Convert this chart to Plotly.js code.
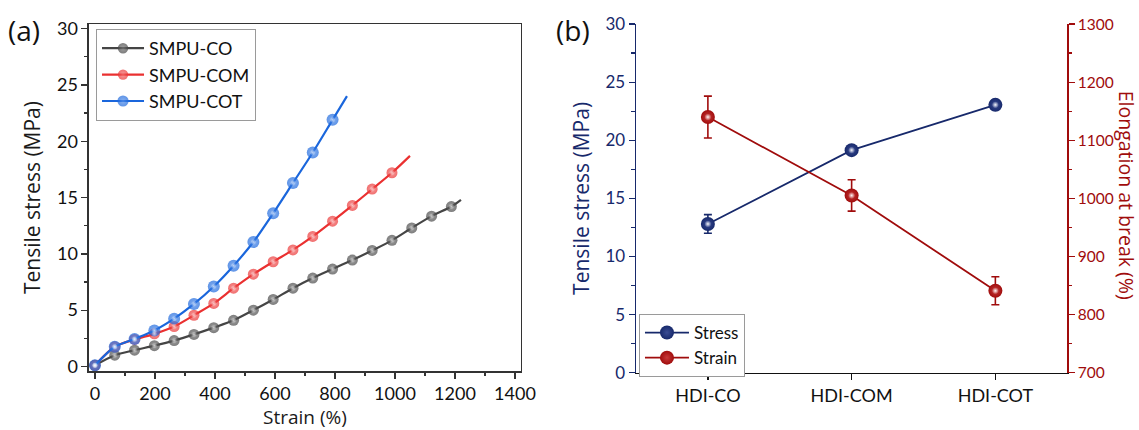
<!DOCTYPE html>
<html>
<head>
<meta charset="utf-8">
<script src="https://cdn.plot.ly/plotly-3.0.1.min.js"></script>
<style>
  html, body { margin: 0; padding: 0; background: #fff; }
  #chart { width: 1139px; height: 430px; }
</style>
</head>
<body>
<div id="chart"></div>
<script>
// (a) stress–strain curves: marker positions along each curve, plus the break point
const strainCO  = [0, 66, 132, 198, 264, 330, 396, 462, 528, 594, 660, 726, 792, 858, 924, 990, 1056, 1122, 1188, 1220];
const stressCO  = [0.1, 1.0, 1.45, 1.85, 2.3, 2.85, 3.45, 4.1, 5.0, 5.95, 6.95, 7.85, 8.65, 9.45, 10.3, 11.2, 12.3, 13.35, 14.2, 14.8];
const strainCOM = [0, 66, 132, 198, 264, 330, 396, 462, 528, 594, 660, 726, 792, 858, 924, 990, 1050];
const stressCOM = [0.1, 1.75, 2.4, 2.9, 3.55, 4.55, 5.6, 6.95, 8.2, 9.3, 10.35, 11.55, 12.9, 14.3, 15.75, 17.2, 18.7];
const strainCOT = [0, 66, 132, 198, 264, 330, 396, 462, 528, 594, 660, 726, 792, 840];
const stressCOT = [0.1, 1.75, 2.45, 3.2, 4.25, 5.55, 7.1, 8.95, 11.05, 13.6, 16.3, 19.0, 21.9, 24.0];

// (b) summary per sample
const samples      = ['HDI-CO', 'HDI-COM', 'HDI-COT'];
const tensile      = [12.8, 19.15, 23.05];
const tensileErr   = [0.8, 0.3, 0.4];
const elongation   = [1140, 1005, 841];
const elongErr     = [36, 27, 24];

const tickFont  = 'Lato, "Open Sans", sans-serif';
const titleFont = '"Open Sans", "Noto Sans", sans-serif';
const navy = '#17296b';
const wine = '#a00c0c';

// the last point of each curve is the break point: line only, no marker
function sizes(n, s) { return Array.from({length: n}, (_, i) => i === n - 1 ? 0 : s); }

// solid ball marker: mid-tone centre fading to the series colour at the rim
function ball(col, mid, s) {
  return {size: s, color: col, line: {width: 0},
          gradient: {type: 'radial', color: mid}};
}

// small white glint drawn on top of each ball
function glint(x, y, xa, ya, s) {
  return {
    type: 'scatter', mode: 'markers', x: x, y: y, xaxis: xa, yaxis: ya,
    showlegend: false, hoverinfo: 'skip',
    marker: {size: s, color: 'rgba(255,255,255,0)', line: {width: 0},
             gradient: {type: 'radial', color: 'rgba(255,255,255,0.95)'}}
  };
}

function curve(name, x, y, col, mid, s) {
  return {
    type: 'scatter', mode: 'lines+markers', name: name, x: x, y: y,
    xaxis: 'x', yaxis: 'y', legend: 'legend',
    line: {color: col, width: 2.2, shape: 'spline', smoothing: 0.8},
    marker: ball(col, mid, sizes(x.length, s))
  };
}

const traces = [
  curve('SMPU-CO',  strainCO,  stressCO,  '#454545', '#7a7a7a', 11),
  curve('SMPU-COM', strainCOM, stressCOM, '#ea3030', '#f27070', 11),
  curve('SMPU-COT', strainCOT, stressCOT, '#1a66dc', '#5590ea', 12),
  glint(strainCO,  stressCO,  'x', 'y', sizes(strainCO.length, 6)),
  glint(strainCOM, stressCOM, 'x', 'y', sizes(strainCOM.length, 6)),
  glint(strainCOT, stressCOT, 'x', 'y', sizes(strainCOT.length, 6)),
  {
    type: 'scatter', mode: 'lines+markers', name: 'Stress',
    x: samples, y: tensile, xaxis: 'x2', yaxis: 'y2', legend: 'legend2',
    line: {color: navy, width: 1.8},
    marker: ball(navy, '#3a4c94', 14),
    error_y: {type: 'data', array: tensileErr, visible: true, color: navy, thickness: 1.6, width: 4}
  },
  {
    type: 'scatter', mode: 'lines+markers', name: 'Strain',
    x: samples, y: elongation, xaxis: 'x2', yaxis: 'y3', legend: 'legend2',
    line: {color: wine, width: 1.8},
    marker: ball(wine, '#c83a3a', 14),
    error_y: {type: 'data', array: elongErr, visible: true, color: wine, thickness: 1.6, width: 4}
  },
  glint(samples, tensile, 'x2', 'y2', 7),
  glint(samples, elongation, 'x2', 'y3', 7)
];

const axBase = {
  showgrid: false, zeroline: false, showline: true, linewidth: 1.5,
  ticks: 'outside', ticklen: 6, tickwidth: 1.3
};

const layout = {
  width: 1139, height: 430,
  margin: {l: 0, r: 0, t: 0, b: 0},
  paper_bgcolor: '#fff', plot_bgcolor: '#fff',
  showlegend: true,
  xaxis: Object.assign({}, axBase, {
    domain: [0.0781, 0.4574], anchor: 'y', range: [-20, 1420], dtick: 200,
    linecolor: '#333', tickcolor: '#333', mirror: true,
    minor: {dtick: 100, ticks: 'outside', ticklen: 3.5, tickcolor: '#333'},
    tickfont: {family: tickFont, size: 18, color: '#111'},
    title: {text: 'Strain (%)', font: {family: titleFont, size: 19, color: '#1a1a1a'}, standoff: 6}
  }),
  yaxis: Object.assign({}, axBase, {
    domain: [0.1372, 0.944], anchor: 'x', range: [-0.4, 30.4], dtick: 5,
    linecolor: '#333', tickcolor: '#333', mirror: true,
    minor: {dtick: 2.5, ticks: 'outside', ticklen: 3.5, tickcolor: '#333'},
    tickfont: {family: tickFont, size: 18, color: '#111'},
    title: {text: 'Tensile stress (MPa)', font: {family: titleFont, size: 21, color: '#1a1a1a'}, standoff: 10}
  }),
  xaxis2: Object.assign({}, axBase, {
    domain: [0.5584, 0.9370], anchor: 'y2', type: 'category',
    categoryorder: 'array', categoryarray: samples, range: [-0.5, 2.5],
    linecolor: '#111', tickcolor: '#111',
    tickfont: {family: tickFont, size: 18, color: '#111'}
  }),
  xaxis3: {
    domain: [0.5584, 0.9370], anchor: 'y2', overlaying: 'x2', side: 'top',
    range: [-0.5, 2.5], tickvals: [0, 0.5, 1, 1.5, 2], showticklabels: false,
    ticks: 'inside', ticklen: 5, tickwidth: 1.3, tickcolor: '#111',
    showline: true, linecolor: '#111', linewidth: 1.5, showgrid: false, zeroline: false
  },
  yaxis2: Object.assign({}, axBase, {
    domain: [0.1333, 0.944], anchor: 'x2', range: [0, 30], dtick: 5,
    linecolor: navy, tickcolor: navy,
    minor: {dtick: 2.5, ticks: 'outside', ticklen: 3.5, tickcolor: navy},
    tickfont: {family: tickFont, size: 17, color: navy},
    title: {text: 'Tensile stress (MPa)', font: {family: titleFont, size: 21, color: navy}, standoff: 10}
  }),
  yaxis3: Object.assign({}, axBase, {
    anchor: 'x2', overlaying: 'y2', side: 'right', range: [700, 1300], dtick: 100,
    linecolor: wine, tickcolor: wine,
    minor: {dtick: 50, ticks: 'outside', ticklen: 3.5, tickcolor: wine},
    tickfont: {family: tickFont, size: 15.5, color: wine}
  }),
  legend: {
    x: 0.0843, y: 0.9326, xanchor: 'left', yanchor: 'top',
    bgcolor: '#fff', bordercolor: '#9a9a9a', borderwidth: 1,
    itemwidth: 42, tracegroupgap: 0,
    font: {family: tickFont, size: 18, color: '#111'}
  },
  legend2: {
    x: 0.561, y: 0.2698, xanchor: 'left', yanchor: 'top',
    bgcolor: '#fff', bordercolor: '#9a9a9a', borderwidth: 1,
    itemwidth: 44,
    font: {family: tickFont, size: 17, color: '#111'}
  },
  annotations: [
    {text: '(a)', xref: 'paper', yref: 'paper', x: 0.005, y: 0.93, xanchor: 'left', yanchor: 'middle',
     showarrow: false, font: {family: titleFont, size: 28, color: '#111'}},
    {text: '(b)', xref: 'paper', yref: 'paper', x: 0.486, y: 0.93, xanchor: 'left', yanchor: 'middle',
     showarrow: false, font: {family: titleFont, size: 28, color: '#111'}},
    {text: 'Elongation at break (%)', xref: 'paper', yref: 'paper', x: 0.9885, y: 0.545,
     xanchor: 'center', yanchor: 'middle', textangle: 90, showarrow: false,
     font: {family: titleFont, size: 19.5, color: wine}}
  ]
};

Plotly.newPlot('chart', traces, layout, {staticPlot: true, displayModeBar: false});
</script>
</body>
</html>
